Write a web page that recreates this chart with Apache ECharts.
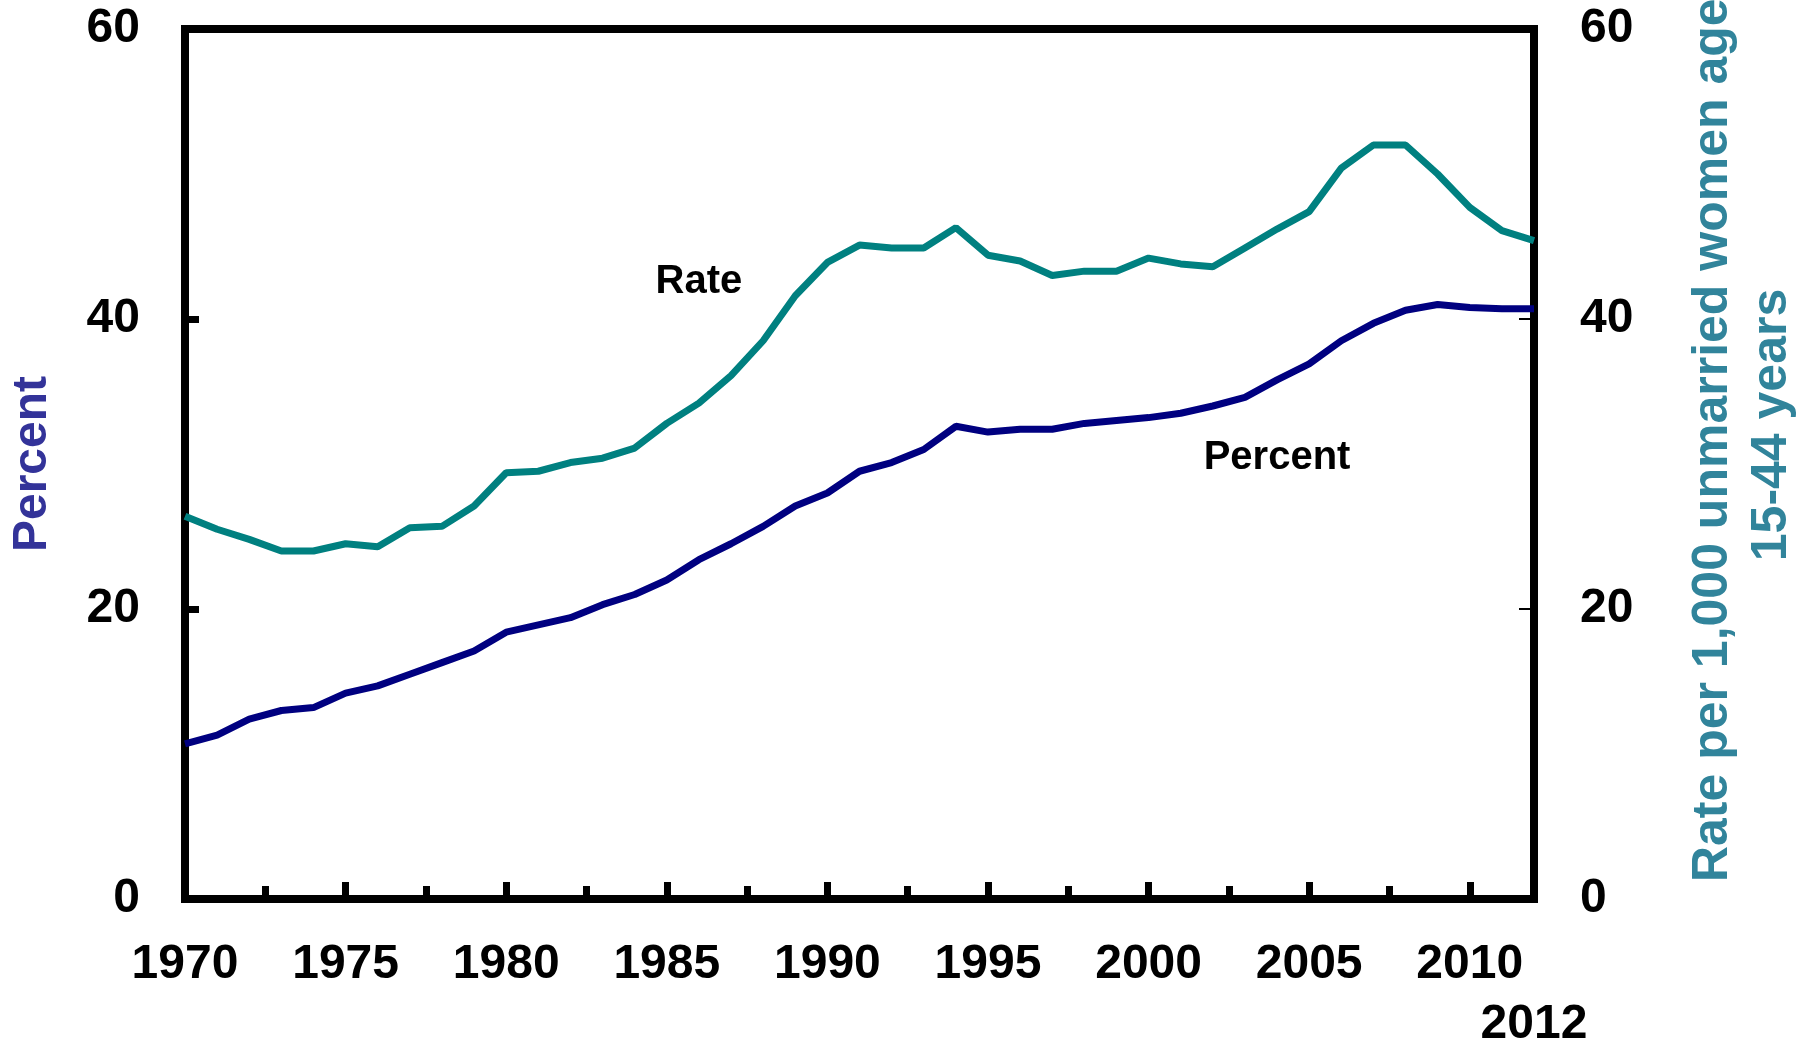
<!DOCTYPE html>
<html>
<head>
<meta charset="utf-8">
<script src="https://cdn.jsdelivr.net/npm/echarts@6/dist/echarts.min.js"></script>
<style>
  html, body { margin: 0; padding: 0; background: #fff; }
  #chart { width: 1800px; height: 1041px; }
</style>
</head>
<body>
<div id="chart"></div>
<script>
// years 1970-2012
const years = [1970, 1971, 1972, 1973, 1974, 1975, 1976, 1977, 1978, 1979,
  1980, 1981, 1982, 1983, 1984, 1985, 1986, 1987, 1988, 1989,
  1990, 1991, 1992, 1993, 1994, 1995, 1996, 1997, 1998, 1999,
  2000, 2001, 2002, 2003, 2004, 2005, 2006, 2007, 2008, 2009,
  2010, 2011, 2012];

// rate per 1,000 unmarried women 15-44 (right axis)
const rateValues = [26.4, 25.5, 24.8, 24.0, 24.0, 24.5, 24.3, 25.6, 25.7, 27.1,
  29.4, 29.5, 30.1, 30.4, 31.1, 32.8, 34.2, 36.1, 38.5, 41.6,
  43.9, 45.1, 44.9, 44.9, 46.3, 44.4, 44.0, 43.0, 43.3, 43.3,
  44.2, 43.8, 43.6, 44.9, 46.2, 47.4, 50.4, 52.0, 52.0, 50.0,
  47.7, 46.1, 45.4];

// percent of all births (left axis)
const percentValues = [10.7, 11.3, 12.4, 13.0, 13.2, 14.2, 14.7, 15.5, 16.3, 17.1,
  18.4, 18.9, 19.4, 20.3, 21.0, 22.0, 23.4, 24.5, 25.7, 27.1,
  28.0, 29.5, 30.1, 31.0, 32.6, 32.2, 32.4, 32.4, 32.8, 33.0,
  33.2, 33.5, 34.0, 34.6, 35.8, 36.9, 38.5, 39.7, 40.6, 41.0,
  40.8, 40.7, 40.7];

const yTicks = [0, 20, 40, 60];
const lastYear = years[years.length - 1];

// where the in-chart series labels sit, in data units
const rateLabelAt = [1986, 42.55];
const percentLabelAt = [2004, 30.4];

const font = 'Liberation Sans, Arial, sans-serif';
const chart = echarts.init(document.getElementById('chart'));

const pairs = (vals) => years.map((y, i) => [y, vals[i]]);
const plain = v => String(v);
const labelFont = { fontFamily: font, fontWeight: 'bold', fontSize: 48, color: '#000' };

const option = {
  animation: false,
  backgroundColor: '#fff',
  grid: {
    left: 185, right: 266, top: 29, bottom: 142,
    outerBoundsMode: 'none', containLabel: false,
    show: true, borderColor: '#000', borderWidth: 8
  },
  xAxis: [
    {
      type: 'value',
      min: years[0], max: lastYear, interval: 5,
      axisLine: { show: false },
      axisTick: { show: true, inside: true, length: 17, lineStyle: { color: '#000', width: 7 } },
      minorTick: { show: true, splitNumber: 2, length: 13, lineStyle: { color: '#000', width: 7 } },
      splitLine: { show: false },
      axisLabel: Object.assign({ margin: 42, showMaxLabel: false, formatter: plain }, labelFont)
    },
    {
      // the end year sits on its own row below the others
      type: 'value', position: 'bottom',
      min: years[0], max: lastYear,
      axisLine: { show: false },
      axisTick: { show: false },
      splitLine: { show: false },
      axisLabel: Object.assign({ margin: 102, customValues: [lastYear], showMaxLabel: true, formatter: plain }, labelFont)
    }
  ],
  yAxis: [
    {
      type: 'value', min: yTicks[0], max: yTicks[yTicks.length - 1], interval: 20,
      position: 'left',
      name: 'Percent', nameLocation: 'middle', nameGap: 128,
      nameTextStyle: { fontFamily: font, fontWeight: 'bold', fontSize: 48, color: '#333399' },
      axisLine: { show: false },
      axisTick: { show: true, inside: true, length: 14, lineStyle: { color: '#000', width: 7 } },
      splitLine: { show: false },
      axisLabel: Object.assign({ margin: 45 }, labelFont)
    },
    {
      type: 'value', min: yTicks[0], max: yTicks[yTicks.length - 1], interval: 20,
      position: 'right',
      name: 'Rate per 1,000 unmarried women aged\n15-44 years',
      nameLocation: 'middle', nameGap: 150,
      nameTextStyle: {
        fontFamily: font, fontWeight: 'bold', fontSize: 50, color: '#31849B',
        lineHeight: 59, align: 'center', padding: [0, 0, 0, 78]
      },
      axisLine: { show: false },
      axisTick: { show: true, inside: true, length: 15, lineStyle: { color: '#000', width: 2 } },
      splitLine: { show: false },
      axisLabel: Object.assign({ margin: 46 }, labelFont)
    }
  ],
  series: [
    {
      name: 'Rate', type: 'line', yAxisIndex: 1,
      data: pairs(rateValues),
      symbol: 'none',
      lineStyle: { color: '#008080', width: 7 },
      markPoint: {
        symbol: 'circle', symbolSize: 0,
        label: { show: true, formatter: 'Rate', fontFamily: font, fontWeight: 'bold', fontSize: 40, color: '#000' },
        data: [{ coord: rateLabelAt }]
      }
    },
    {
      name: 'Percent', type: 'line', yAxisIndex: 0,
      data: pairs(percentValues),
      symbol: 'none',
      lineStyle: { color: '#000080', width: 7 },
      markPoint: {
        symbol: 'circle', symbolSize: 0,
        label: { show: true, formatter: 'Percent', fontFamily: font, fontWeight: 'bold', fontSize: 40, color: '#000' },
        data: [{ coord: percentLabelAt }]
      }
    }
  ]
};

chart.setOption(option);
</script>
</body>
</html>
